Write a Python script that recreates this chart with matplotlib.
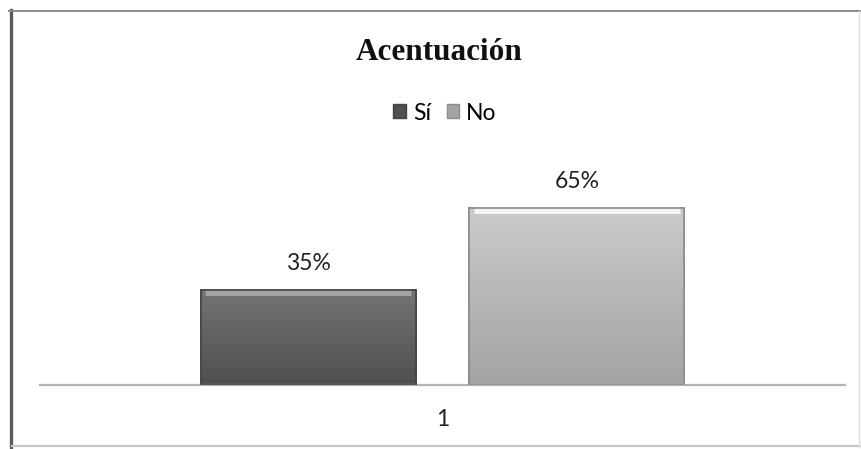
import matplotlib
matplotlib.use("Agg")
import matplotlib.pyplot as plt
import numpy as np
from matplotlib.lines import Line2D
from matplotlib.patches import Patch

# data
categories = ["1"]
series = ["Sí", "No"]
values = [35, 65]
labels = ["35%", "65%"]

colors_top = ["#747474", "#cbcbcb"]
colors_bot = ["#4f4f4f", "#a3a3a3"]
edge_cols = ["#444444", "#8c8c8c"]

W, H = 861, 449
fig = plt.figure(figsize=(W / 100, H / 100), dpi=100)
fig.patch.set_facecolor("white")

def fx(px):
    return px / W

def fy(py):
    return 1 - py / H

ax = fig.add_axes([fx(40), fy(385), fx(845) - fx(40), fy(194) - fy(385)])
ax.set_xlim(0.5, 1.5)
ax.set_ylim(0, 70)
for s in ["top", "right", "left"]:
    ax.spines[s].set_visible(False)
ax.spines["bottom"].set_color("#b4b4b4")
ax.spines["bottom"].set_linewidth(1.6)
ax.set_yticks([])
ax.set_xticks([1])
ax.set_xticklabels(categories, fontsize=16.5, family="Lato", color="#222222")
ax.tick_params(axis="x", length=0, pad=17)

offsets = [-0.167, 0.167]
width = 0.267
for i, (name, v) in enumerate(zip(series, values)):
    xc = 1 + offsets[i]
    bars = ax.bar(xc, v, width, color=colors_bot[i], edgecolor=edge_cols[i],
                  linewidth=1.2, zorder=2, label=name)
    rect = bars[0]
    # vertical gradient inside the bar
    c0 = np.array(matplotlib.colors.to_rgb(colors_top[i]))
    c1 = np.array(matplotlib.colors.to_rgb(colors_bot[i]))
    t = np.linspace(0, 1, 100)[:, None]
    grad = (c0 * (1 - t) + c1 * t)[:, None, :]
    im = ax.imshow(grad, extent=[xc - width / 2, xc + width / 2, 0, v],
                   aspect="auto", zorder=2.5, origin="upper")
    im.set_clip_path(rect)
    # bevel highlight at top
    ax.plot([xc - width / 2 + 0.006, xc + width / 2 - 0.006], [v - 0.9, v - 0.9],
            color="white", alpha=0.35 if i == 0 else 0.8, linewidth=5, zorder=3,
            solid_capstyle="butt")
    ax.bar(xc, v, width, color="none", edgecolor=edge_cols[i], linewidth=1.2, zorder=4)
    ax.text(xc, v + 5.8, labels[i], ha="center", va="bottom", fontsize=16.5,
            family="Lato", color="#222222")

fig.text(fx(439), fy(52), "Acentuación", ha="center", va="center",
         fontsize=22.5, fontweight="bold", family="Liberation Serif", color="#111111")

handles = [Patch(facecolor=colors_bot[i], edgecolor=edge_cols[i]) for i in range(2)]
fig.legend(handles, series, loc="center", bbox_to_anchor=(fx(445), fy(113)), ncol=2,
           frameon=False, handlelength=0.55, handleheight=0.55, handletextpad=0.3,
           columnspacing=0.7, prop={"family": "Lato", "size": 16.5})

# outer frame of the chart
fig.add_artist(Line2D([fx(11), fx(11)], [fy(10), fy(447)], color="#5a5a5a", linewidth=2.4))
fig.add_artist(Line2D([fx(9), fx(861)], [fy(11), fy(11)], color="#8a8a8a", linewidth=1.4))
fig.add_artist(Line2D([fx(12), fx(861)], [fy(446), fy(446)], color="#c8c8c8", linewidth=1.6))
fig.add_artist(Line2D([fx(859), fx(859)], [fy(11), fy(447)], color="#dddddd", linewidth=1.0))

fig.savefig("out.png", dpi=100)
